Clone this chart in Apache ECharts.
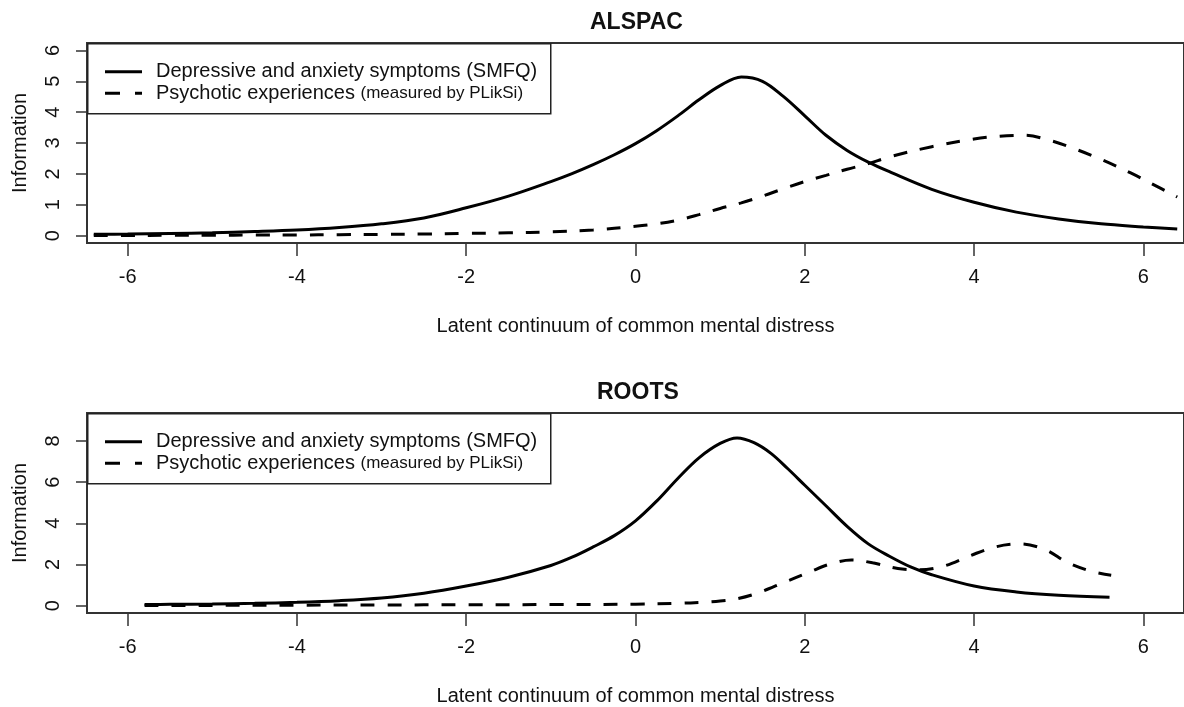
<!DOCTYPE html>
<html>
<head>
<meta charset="utf-8">
<script src="https://cdn.jsdelivr.net/npm/echarts@6/dist/echarts.min.js"></script>
<style>
html,body{margin:0;padding:0;background:#fff;}
#chart{width:1184px;height:707px;}
</style>
</head>
<body>
<div id="chart"></div>
<script>
// ---------- data ----------
const panelTitles = ['ALSPAC', 'ROOTS'];
const seriesNames = ['Depressive and anxiety symptoms (SMFQ)', 'Psychotic experiences (measured by PLikSi)'];
const xTicks = [-6, -4, -2, 0, 2, 4, 6];
const yTicksAlspac = [0, 1, 2, 3, 4, 5, 6];
const yTicksRoots = [0, 2, 4, 6, 8];

const alspacSmfqX = [-6.4,-6,-5.5,-5,-4.5,-4,-3.5,-3,-2.5,-2,-1.5,-1,-0.75,-0.5,-0.25,0,0.25,0.5,0.75,1,1.25,1.5,1.75,2,2.25,2.5,2.75,3,3.5,4,4.5,5,5.5,6,6.4];
const alspacSmfqY = [0.04,0.05,0.07,0.09,0.13,0.18,0.26,0.38,0.57,0.9,1.28,1.75,2.01,2.3,2.62,2.98,3.4,3.88,4.4,4.86,5.14,5.0,4.5,3.88,3.25,2.76,2.38,2.07,1.5,1.08,0.76,0.54,0.38,0.28,0.21];

const alspacPeX = [-6.4,-6,-5.5,-5,-4.5,-4,-3.5,-3,-2.5,-2,-1.5,-1,-0.5,0,0.25,0.5,0.75,1,1.25,1.5,1.75,2,2.25,2.5,2.75,3,3.5,4,4.3,4.6,4.9,5.2,5.5,5.85,6.1,6.4];
const alspacPeY = [0.0,0.0,0.01,0.01,0.02,0.02,0.03,0.04,0.05,0.07,0.09,0.12,0.18,0.3,0.38,0.5,0.68,0.88,1.06,1.28,1.52,1.75,1.95,2.15,2.33,2.55,2.88,3.13,3.22,3.25,3.08,2.8,2.47,2.03,1.68,1.25];

const rootsSmfqX = [-5.8,-5.5,-5,-4.5,-4,-3.5,-3,-2.5,-2,-1.5,-1,-0.75,-0.5,-0.25,0,0.25,0.5,0.75,1,1.2,1.4,1.6,1.8,2,2.25,2.5,2.75,3,3.25,3.5,4,4.5,5,5.6];
const rootsSmfqY = [0.05,0.06,0.08,0.11,0.16,0.24,0.37,0.6,0.95,1.38,1.95,2.35,2.85,3.4,4.12,5.08,6.18,7.18,7.88,8.15,7.92,7.4,6.65,5.85,4.85,3.85,3.0,2.4,1.88,1.5,0.95,0.66,0.5,0.4];

const rootsPeX = [-5.8,-5,-4,-3,-2,-1,0,0.5,0.8,1.0,1.2,1.45,1.75,2.05,2.3,2.55,2.8,3.1,3.35,3.65,3.95,4.25,4.55,4.85,5.1,5.4,5.62];
const rootsPeY = [0.0,0.01,0.02,0.03,0.04,0.05,0.07,0.11,0.16,0.22,0.33,0.62,1.12,1.62,2.02,2.22,2.08,1.8,1.74,1.93,2.42,2.85,3.0,2.7,2.1,1.65,1.48];

// ---------- build ----------
const FONT = 'Liberation Sans, Arial, sans-serif';
const pair = (xs, ys) => xs.map((x, i) => [x, ys[i]]);

const grids = [
  {left: 87, right: -7, top: 43, height: 200},
  {left: 87, right: -7, top: 413, height: 200}
];
const yRanges = [[-0.24, 6.24], [-0.36, 9.36]];
const yTicks = [yTicksAlspac, yTicksRoots];

const xAxes = grids.map((g, i) => ({
  type: 'value', gridIndex: i, min: -6.48, max: 6.48,
  name: 'Latent continuum of common mental distress',
  nameLocation: 'middle', nameGap: 73,
  nameTextStyle: {fontFamily: FONT, fontSize: 20, color: '#111'},
  axisLine: {show: false, onZero: false},
  axisTick: {show: true, length: 13, customValues: xTicks, lineStyle: {color: '#333', width: 1.5}},
  axisLabel: {customValues: xTicks, margin: 24, fontFamily: FONT, fontSize: 20, color: '#111'},
  splitLine: {show: false}
}));
const yAxes = grids.map((g, i) => ({
  type: 'value', gridIndex: i, min: yRanges[i][0], max: yRanges[i][1],
  name: 'Information', nameLocation: 'middle', nameGap: 57,
  nameTextStyle: {fontFamily: FONT, fontSize: 20, color: '#111'},
  axisLine: {show: false, onZero: false},
  axisTick: {show: true, length: 11, customValues: yTicks[i], lineStyle: {color: '#333', width: 1.5}},
  axisLabel: {customValues: yTicks[i], rotate: 90, margin: 24, fontFamily: FONT, fontSize: 20, color: '#111'},
  splitLine: {show: false}
}));

const solid = {color: '#000', width: 3, type: 'solid'};
const dashed = {color: '#000', width: 3, type: [14, 13]};
const mk = (name, data, idx, ls) => ({
  type: 'line', name: name, data: data, xAxisIndex: idx, yAxisIndex: idx,
  showSymbol: false, symbol: 'none', smooth: 0.35, lineStyle: ls, itemStyle: {color: '#000'},
  clip: true, animation: false, silent: true
});
const series = [
  mk(seriesNames[0], pair(alspacSmfqX, alspacSmfqY), 0, solid),
  mk(seriesNames[1], pair(alspacPeX, alspacPeY), 0, dashed),
  mk(seriesNames[0], pair(rootsSmfqX, rootsSmfqY), 1, solid),
  mk(seriesNames[1], pair(rootsPeX, rootsPeY), 1, dashed)
];

const solidIcon = 'path://M0,0h37v3h-37z';
const dashIcon = 'path://M0,0h15v3h-15zM30,0h7v3h-7z';

const legends = grids.map((g, i) => ({
  data: [{name: seriesNames[0], icon: solidIcon}, {name: seriesNames[1], icon: dashIcon}],
  orient: 'vertical', left: 105, top: g.top + 18.7, padding: 0,
  itemWidth: 37, itemHeight: 3, itemGap: 1.6, selectedMode: false,
  symbolKeepAspect: false,
  itemStyle: {color: '#000', borderWidth: 0},
  textStyle: {
    fontFamily: FONT, fontSize: 20, color: '#111', lineHeight: 20, padding: [0, 0, 0, 9],
    rich: {
      a: {fontFamily: FONT, fontSize: 20, color: '#111', lineHeight: 20},
      b: {fontFamily: FONT, fontSize: 17, color: '#111', lineHeight: 20}
    }
  },
  formatter: function (name) {
    if (name === seriesNames[1]) return '{a|Psychotic experiences }{b|(measured by PLikSi)}';
    return '{a|' + name + '}';
  }
}));

const titles = grids.map((g, i) => ({
  text: panelTitles[i], left: i === 0 ? 590 : 597, top: g.top - 32, padding: 0,
  textStyle: {fontFamily: FONT, fontSize: 23, fontWeight: 'bold', color: '#111'}
}));

const graphics = grids.map((g) => ({
  type: 'rect', left: 87, top: g.top, z: 10,
  shape: {x: 0, y: 0, width: 463, height: 70},
  style: {fill: 'rgba(0,0,0,0)', stroke: '#222', lineWidth: 1.5}
}));

const chart = echarts.init(document.getElementById('chart'), null, {renderer: 'canvas'});
chart.setOption({
  backgroundColor: '#fff',
  animation: false,
  title: titles,
  grid: grids.map(g => Object.assign({show: true, borderColor: '#333', borderWidth: 2, backgroundColor: 'transparent'}, g)),
  xAxis: xAxes,
  yAxis: yAxes,
  legend: legends,
  graphic: graphics,
  series: series
});
</script>
</body>
</html>
